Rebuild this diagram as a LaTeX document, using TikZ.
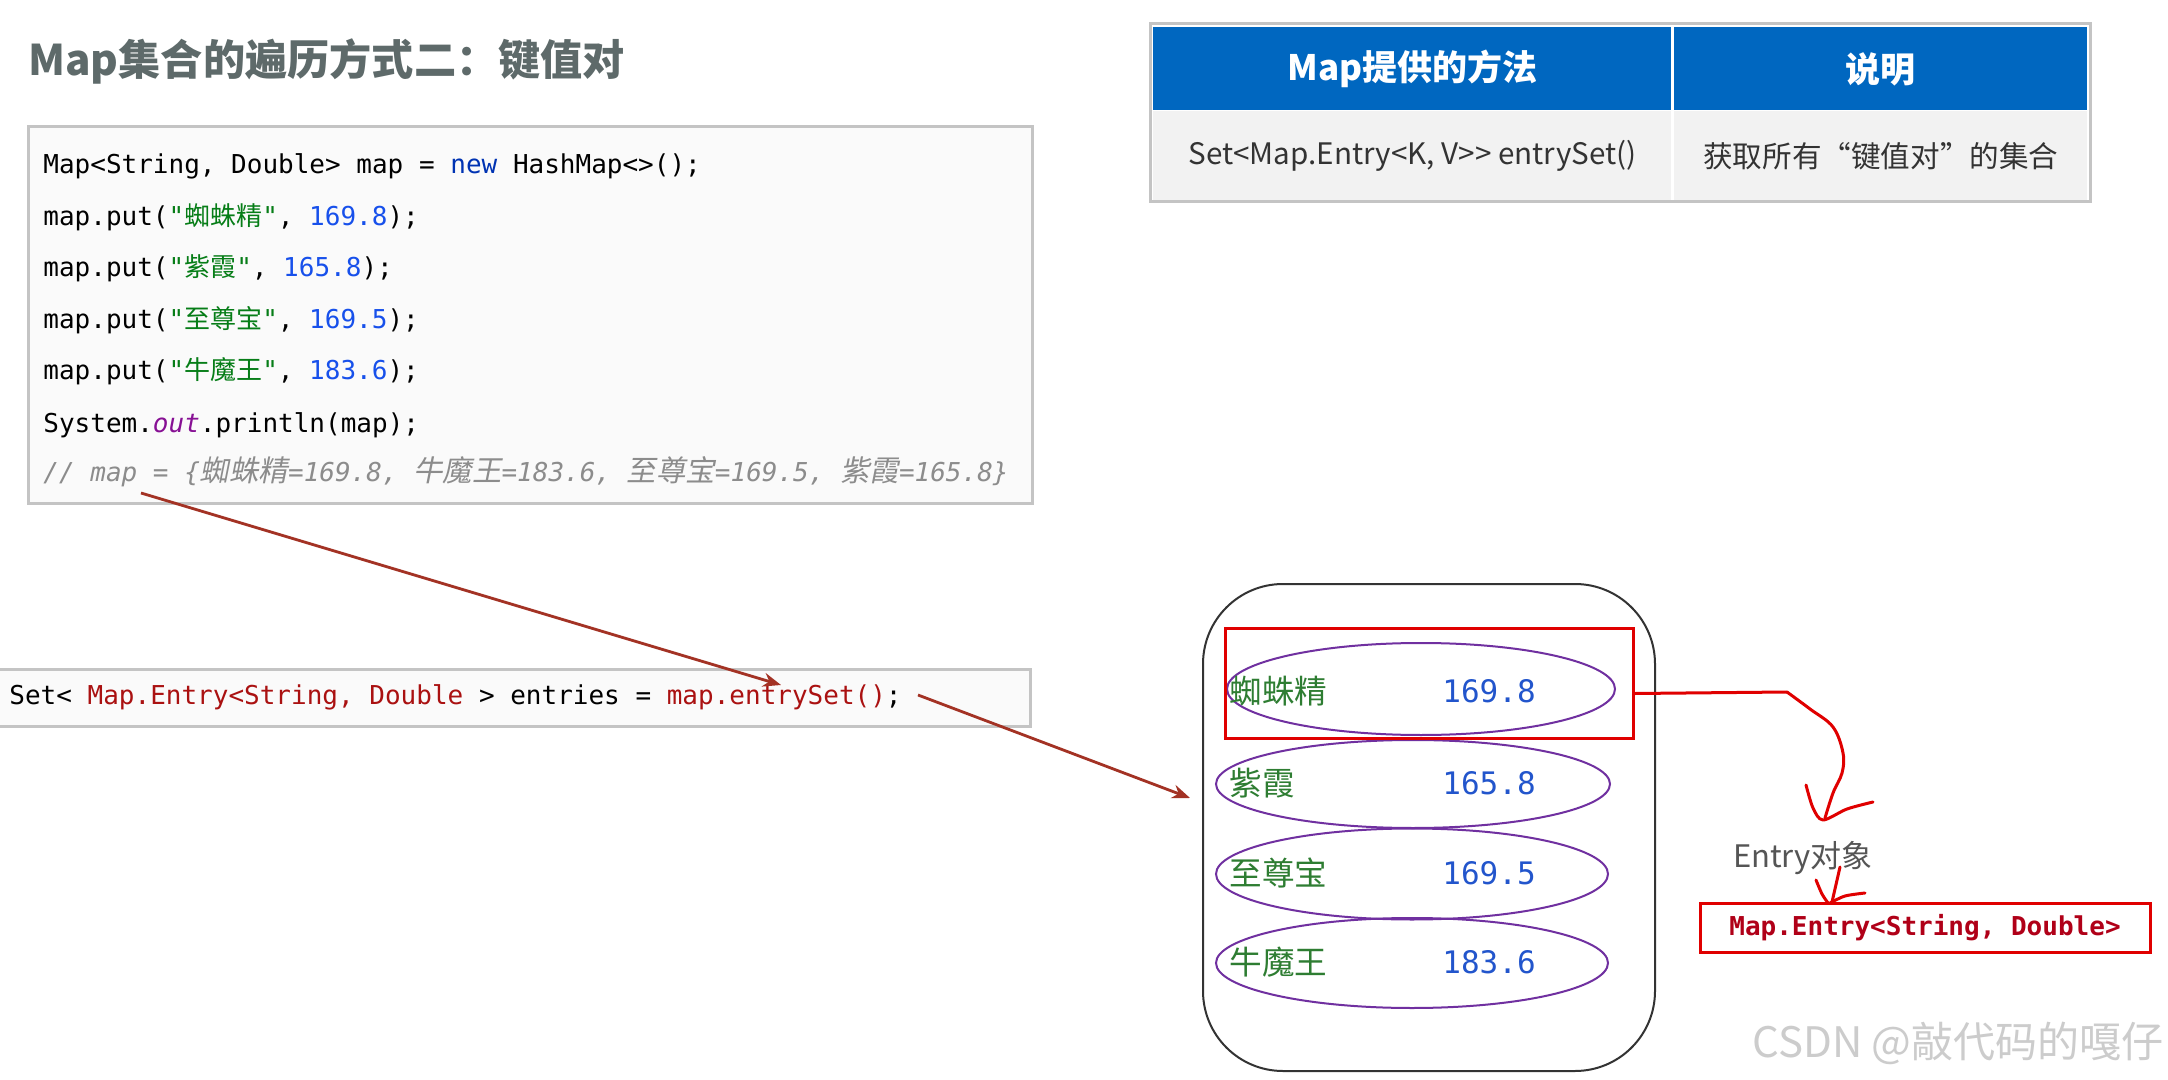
\documentclass[tikz,border=0pt]{standalone}
\usepackage{fontspec}
\setmainfont{Noto Sans}
\setmonofont{DejaVu Sans Mono}
\newfontfamily\cjk{Noto Sans CJK SC}
\newfontfamily\cjkit[FakeSlant=0.2]{Noto Sans CJK SC}
\usetikzlibrary{shapes.geometric,arrows.meta,positioning}

\definecolor{titlegray}{HTML}{5E6A6A}
\definecolor{boxgray}{HTML}{C4C4C4}
\definecolor{codebg}{HTML}{FAFAFA}
\definecolor{kwblue}{HTML}{0033B3}
\definecolor{numblue}{HTML}{1750EB}
\definecolor{strgreen}{HTML}{067D17}
\definecolor{outpurple}{HTML}{871094}
\definecolor{commentgray}{HTML}{8C8C8C}
\definecolor{codered}{HTML}{AA1111}
\definecolor{arrowred}{HTML}{A33224}
\definecolor{tableblue}{HTML}{0067C0}
\definecolor{tablebg}{HTML}{F2F2F2}
\definecolor{tabletext}{HTML}{333333}
\definecolor{bagline}{HTML}{333333}
\definecolor{pairpurple}{HTML}{7030A0}
\definecolor{keygreen}{HTML}{2E7D32}
\definecolor{valblue}{HTML}{2255CC}
\definecolor{handred}{HTML}{E00000}
\definecolor{boxred}{HTML}{B00018}
\definecolor{labelgray}{HTML}{555555}
\definecolor{markgray}{HTML}{CCCCCC}

\newcommand{\jstr}[1]{\textcolor{strgreen}{"{\cjk #1}"}}
\newcommand{\jnum}[1]{\textcolor{numblue}{#1}}
\newcommand{\jzh}[1]{{\cjkit\fontsize{14.7}{15}\selectfont #1}}

\begin{document}
\begin{tikzpicture}[x=0.5pt, y=-0.5pt,
        codebox/.style={draw=boxgray, line width=1.5pt, fill=codebg, anchor=north west, inner sep=0pt},
        codeline/.style={anchor=west, inner sep=0pt, font=\ttfamily\fontsize{13}{15}\selectfont, text height=10pt, text depth=3pt},
        headcell/.style={fill=tableblue, text=white, anchor=north west, inner sep=0pt, font=\cjk\bfseries\fontsize{17.5}{20}\selectfont},
        bodycell/.style={fill=tablebg, text=tabletext, anchor=north west, inner sep=0pt, font=\cjk\fontsize{14.8}{17}\selectfont},
        pair/.style={ellipse, draw=pairpurple, line width=1pt, inner sep=0pt},
        key/.style={anchor=west, inner sep=0pt, text=keygreen, font=\cjk\fontsize{16.3}{19}\selectfont},
        val/.style={inner sep=0pt, text=valblue, font=\ttfamily\fontsize{15.5}{18}\selectfont},
        flow/.style={-{Stealth[length=9pt,width=7pt]}, arrowred, line width=1.4pt},
        hand/.style={handred, line width=1.5pt, line cap=round, line join=round}
    ]
    \fill[white] (0,0) rectangle (2168,1080);
    \useasboundingbox (0,0) rectangle (2168,1080);

    % title
    \node[anchor=west, inner sep=0pt, text=titlegray, font=\cjk\bfseries\fontsize{21.1}{25}\selectfont]
        (title) at (28,61) {Map集合的遍历方式二：键值对};

    % code block
    \node[codebox, minimum width=502pt, minimum height=188.5pt] (code) at (27,125) {};
    \node[codeline] (l1) at (43,167) {Map<String, Double> map = \textcolor{kwblue}{new} HashMap<>();};
    \node[codeline] (l2) at (43,219) {map.put(\jstr{蜘蛛精}, \jnum{169.8});};
    \node[codeline] (l3) at (43,270) {map.put(\jstr{紫霞}, \jnum{165.8});};
    \node[codeline] (l4) at (43,322) {map.put(\jstr{至尊宝}, \jnum{169.5});};
    \node[codeline] (l5) at (43,373) {map.put(\jstr{牛魔王}, \jnum{183.6});};
    \node[codeline] (l6) at (43,426) {System.\textcolor{outpurple}{\itshape out}.println(map);};
    \node[codeline, text=commentgray, font=\ttfamily\itshape\fontsize{13}{15}\selectfont] (l7) at (43,474)
        {// map = \{\jzh{蜘蛛精}=169.8, \jzh{牛魔王}=183.6, \jzh{至尊宝}=169.5, \jzh{紫霞}=165.8\}};

    % entrySet line
    \node[codebox, minimum width=517pt, minimum height=28.5pt] (setbox) at (-5,668) {};
    \node[codeline] (setline) at (9,697)
        {Set< \textcolor{codered}{Map.Entry<String, Double} > entries = \textcolor{codered}{map.entrySet()};};

    % table
    \draw[boxgray, line width=1.5pt, fill=white] (1150,24) rectangle (2090,202);
    \node[headcell, minimum width=259pt, minimum height=41.5pt] (h1) at (1153,27) {Map提供的方法};
    \node[headcell, minimum width=206.5pt, minimum height=41.5pt] (h2) at (1674,27) {说明};
    \node[bodycell, minimum width=259pt, minimum height=44.5pt] (b1) at (1153,111) {Set<Map.Entry<K, V>> entrySet()};
    \node[bodycell, minimum width=206.5pt, minimum height=44.5pt] (b2) at (1674,111) {获取所有“键值对”的集合};

    % entry set
    \node[draw=bagline, line width=1pt, rounded corners=40pt, anchor=north west,
        minimum width=226pt, minimum height=243.5pt] (bag) at (1202,583) {};
    \node[pair, minimum width=194pt, minimum height=46pt] (e1) at (1421,689) {};
    \node[pair, minimum width=197pt, minimum height=44pt] (e2) at (1413,784) {};
    \node[pair, minimum width=196pt, minimum height=45.5pt] (e3) at (1412,874) {};
    \node[pair, minimum width=196pt, minimum height=45pt] (e4) at (1412,963) {};
    \node[key] (k1) at (1229,691) {蜘蛛精};
    \node[key] (k2) at (1229,783) {紫霞};
    \node[key] (k3) at (1229,873) {至尊宝};
    \node[key] (k4) at (1229,962) {牛魔王};
    \node[val] (v1) at (1489,691) {169.8};
    \node[val] (v2) at (1489,783) {165.8};
    \node[val] (v3) at (1489,873) {169.5};
    \node[val] (v4) at (1489,962) {183.6};
    \node[draw=handred, line width=1.5pt, inner sep=0pt, anchor=north west,
        minimum width=204pt, minimum height=55pt] (pick) at (1224,627) {};

    % arrows
    \coordinate (mapword) at (141,493);
    \coordinate (entrytip) at (781,685);
    \coordinate (settail) at (918,695);
    \coordinate (bagin) at (1190,798);
    \draw[flow] (mapword) -- (entrytip);
    \draw[flow] (settail) -- (bagin);

    % hand drawn arrows
    \coordinate (turn) at (1787,692);
    \coordinate (drop) at (1825,818);
    \draw[hand] ([yshift=-5pt]pick.east) -- (turn);
    \draw[hand] plot[smooth, tension=0.6] coordinates
        {(turn) (1810,709) (1833,727) (1843,753) (1842,773) (1833,793) (drop)};
    \draw[hand] plot[smooth, tension=0.5] coordinates
        {(1806,785) (1813,808) (1823,820) (1847,809) (1873,802)};

    \node[inner sep=0pt, text=labelgray, font=\cjk\fontsize{15.5}{18}\selectfont] (entrylabel) at (1803,858) {Entry对象};
    \node[draw=handred, line width=1.5pt, inner sep=0pt, minimum width=225pt, minimum height=24.5pt,
        text=boxred, font=\ttfamily\bfseries\fontsize{13}{15}\selectfont] (entrybox) at (1925,927.5)
        {Map.Entry<String, Double>};
    \coordinate (stem) at (1840,867);
    \draw[hand] (stem) -- (1832,902);
    \draw[hand] plot[smooth, tension=0.5] coordinates {(1816,880) (1822,894) (1828,903)};
    \draw[hand] plot[smooth, tension=0.5] coordinates {(1865,893) (1845,896) (1830,903)};

    % watermark
    \node[anchor=west, inner sep=0pt, text=markgray, font=\cjk\fontsize{21}{24}\selectfont] (mark) at (1752,1043)
        {CSDN @敲代码的嘎仔};
\end{tikzpicture}
\end{document}
